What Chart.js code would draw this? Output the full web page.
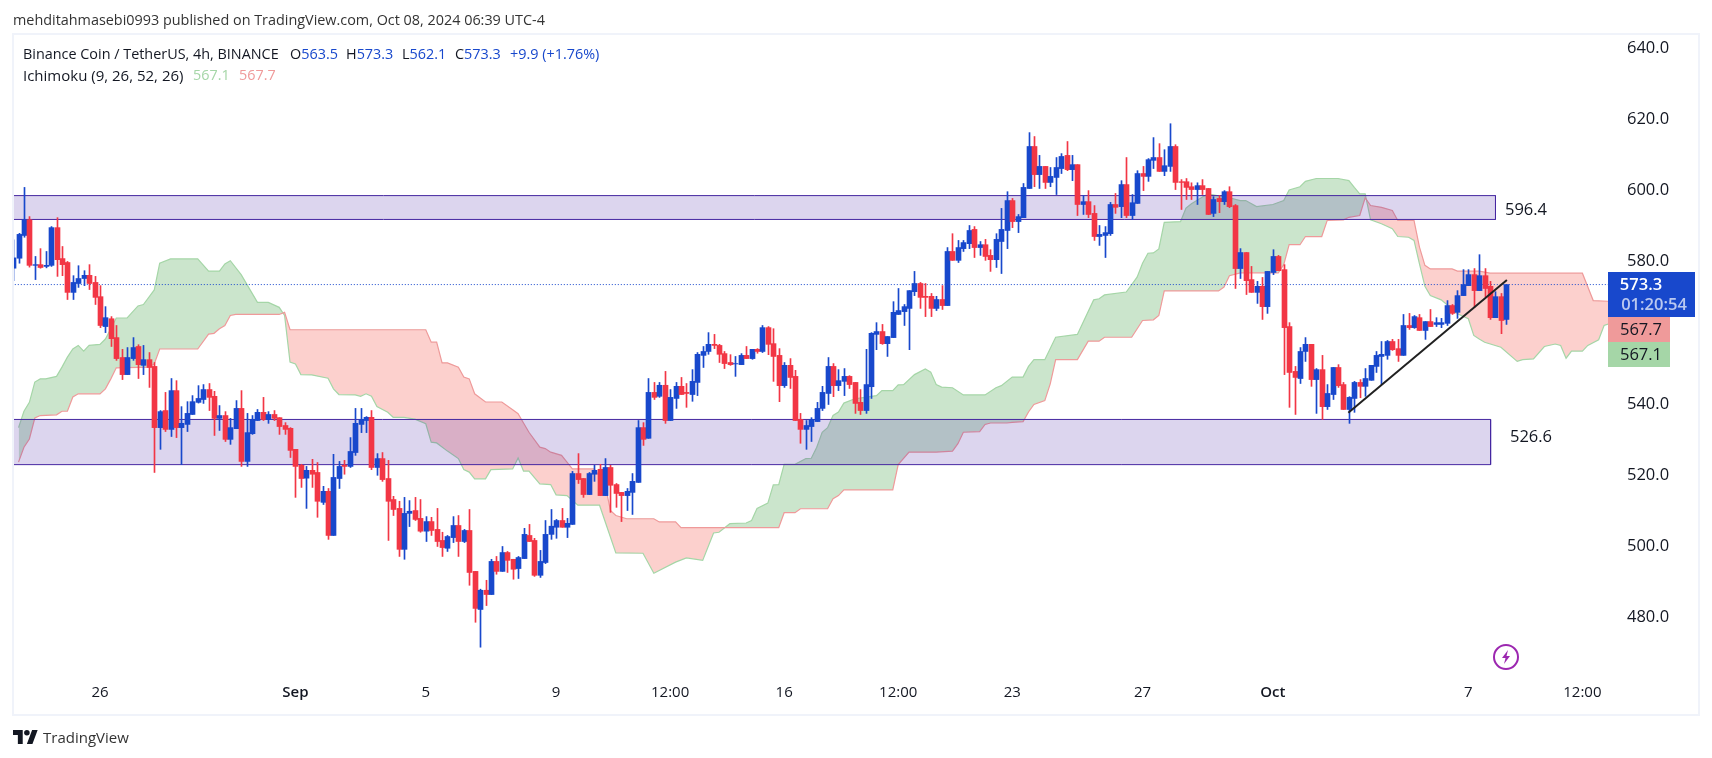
<!DOCTYPE html>
<html>
<head>
<meta charset="utf-8">
<title>BNB / USDT 4h</title>
<script src="https://cdn.jsdelivr.net/npm/chart.js@4"></script>
<style>
  html, body { margin: 0; padding: 0; background: #fff; }
  body { width: 1712px; height: 758px; position: relative; overflow: hidden; font-family: "Open Sans", sans-serif; color: #131722; }
  #frame { position: absolute; left: 12px; top: 33px; width: 1684px; height: 679px; border: 2px solid #f0f3fa; }
  #chart { position: absolute; left: 0; top: 0; }
  .txt { position: absolute; white-space: nowrap; font-size: 14.4px; line-height: 20px; }
  .blue { color: #1848cc; }
  #bolt { position: absolute; left: 1493px; top: 644px; }
  #logo { position: absolute; left: 13px; top: 730px; }
</style>
</head>
<body>
<div id="frame"></div>
<canvas id="chart" width="1712" height="758"></canvas>
<div class="txt" style="left:13px;top:10px;color:#333">mehditahmasebi0993 published on TradingView.com, Oct 08, 2024 06:39 UTC-4</div>
<div class="txt" style="left:23px;top:44px">Binance Coin / TetherUS, 4h, BINANCE</div>
<div class="txt" style="left:290px;top:44px">O<span class="blue">563.5</span></div>
<div class="txt" style="left:346px;top:44px">H<span class="blue">573.3</span></div>
<div class="txt" style="left:402px;top:44px">L<span class="blue">562.1</span></div>
<div class="txt" style="left:455px;top:44px">C<span class="blue">573.3</span></div>
<div class="txt blue" style="left:510px;top:44px">+9.9 (+1.76%)</div>
<div class="txt" style="left:23px;top:65px;font-size:15px">Ichimoku (9, 26, 52, 26)</div>
<div class="txt" style="left:193px;top:65px;color:#a5d6a7">567.1</div>
<div class="txt" style="left:239px;top:65px;color:#ef9a9a">567.7</div>
<svg id="bolt" width="26" height="26" viewBox="0 0 26 26">
  <circle cx="13" cy="13" r="12" fill="#fff" stroke="#9c27b0" stroke-width="2"/>
  <path d="M15 6 L9 14 L12.5 14 L11 20 L17 12 L13.5 12 Z" fill="#9c27b0"/>
</svg>
<svg id="logo" width="25" height="14" viewBox="0 0 36 20">
  <path d="M14 20H7V7H0V0h14v20zM28 20h-8l7.5-20h8L28 20z" fill="#131722"/>
  <circle cx="20" cy="4" r="4" fill="#131722"/>
</svg>
<div class="txt" style="left:43px;top:727px;font-size:15px;color:#333">TradingView</div>

<script>
// 4h candles, first one is Aug 23 08:00
const opens = [
  577.9,580.7,587.1,591.5,578.7,578.9,578.4,578.7,589.3,580.6,
  579.5,571.1,573.6,575.0,575.9,573.9,569.9,561.5,563.7,558.4,
  552.8,548.0,552.5,555.9,550.6,552.2,550.3,533.1,537.9,532.6,
  543.5,533.1,534.0,536.8,540.2,541.0,543.8,541.9,535.7,536.5,
  529.8,532.8,538.5,523.6,531.4,535.1,537.4,535.4,536.8,535.9,
  533.7,532.9,527.0,522.5,518.9,521.1,520.5,512.1,515.2,502.8,
  518.8,522.5,522.2,526.1,534.0,535.1,536.0,521.9,524.4,518.8,
  512.9,510.4,498.9,509.0,509.8,507.6,504.0,506.7,504.5,501.4,
  499.2,502.2,505.6,501.1,504.2,492.7,482.0,487.4,486.2,495.5,
  492.7,498.0,496.1,493.5,496.3,502.8,501.4,491.6,495.2,503.1,
  505.1,507.0,505.1,505.9,520.2,518.8,514.3,520.0,521.4,514.0,
  521.9,517.1,514.9,514.0,514.9,517.7,533.1,530.1,543.0,541.9,
  545.0,535.1,541.3,544.7,543.0,542.4,545.8,553.4,554.5,556.5,
  556.2,553.9,551.4,551.0,550.8,553.4,552.5,555.1,554.5,561.2,
  556.7,553.4,544.9,550.6,547.5,535.4,532.6,533.4,534.8,538.5,
  542.7,550.3,544.9,546.1,547.5,545.8,540.2,537.9,544.6,559.3,
  560.1,556.7,558.4,564.9,565.7,566.6,571.3,573.6,570.0,570.0,
  566.6,569.1,567.4,582.6,580.1,583.4,584.8,588.8,583.7,584.5,
  581.5,580.3,585.4,588.5,596.9,591.0,592.1,600.3,612.1,604.2,
  606.5,602.0,603.4,605.9,609.6,605.6,607.0,595.8,596.6,593.3,
  586.8,587.1,587.6,595.8,595.2,601.4,592.7,596.1,604.5,603.7,
  608.2,609.0,605.1,606.5,612.1,602.2,602.2,600.8,600.0,601.1,
  600.3,593.3,597.5,596.6,599.4,595.5,577.8,582.3,574.7,571.1,
  572.8,567.1,576.7,581.2,577.5,561.5,548.9,546.9,554.5,556.5,
  546.6,549.4,539.0,542.4,550.0,545.2,538.2,541.3,545.8,544.7,
  546.4,550.3,553.1,553.4,557.3,555.3,553.4,561.8,561.2,564.0,
  560.4,562.9,562.1,562.1,562.4,567.4,565.5,570.2,573.0,576.1,
  571.6,575.8,572.8,564.0,569.9,563.5
];
const closes = [
  580.8,587.4,591.5,578.7,578.9,578.1,578.7,589.3,580.3,578.9,
  571.1,573.9,575.0,575.9,573.6,569.7,561.8,564.0,558.1,552.5,
  548.0,552.8,555.6,550.8,552.2,550.0,533.1,537.6,532.6,543.5,
  533.1,534.3,537.1,540.4,541.3,543.8,541.6,535.7,536.5,529.8,
  533.1,538.5,523.6,531.7,535.4,537.4,535.4,536.8,535.7,533.4,
  532.6,526.7,522.2,518.8,521.1,520.0,512.4,515.2,502.8,519.1,
  522.2,522.2,526.4,534.3,535.4,536.0,521.9,524.4,518.5,512.4,
  510.1,498.9,509.0,509.6,507.3,504.0,506.7,504.2,501.1,499.4,
  502.5,505.6,501.1,504.2,492.4,482.3,487.4,486.2,495.5,492.7,
  498.0,495.8,493.3,496.6,503.1,501.1,491.6,495.5,503.1,505.4,
  507.0,505.1,506.2,520.2,518.5,514.3,520.2,521.1,514.0,521.9,
  516.9,514.6,514.0,515.2,518.0,533.1,529.8,543.0,541.6,545.0,
  535.1,541.6,544.7,542.4,542.7,546.1,553.7,554.5,556.5,556.2,
  553.7,551.1,550.8,551.1,553.4,552.5,555.1,554.5,561.2,556.5,
  553.1,544.9,550.6,547.2,535.1,532.6,533.7,535.4,538.5,543.0,
  550.3,544.9,546.3,547.5,545.2,539.9,537.9,545.2,559.6,560.1,
  556.7,558.7,565.5,566.0,567.1,571.6,573.6,569.7,569.7,566.6,
  569.1,567.4,582.6,580.1,583.7,585.1,588.5,583.7,584.5,581.2,
  580.3,586.0,588.8,596.9,591.0,592.4,600.6,612.1,604.2,606.5,
  602.0,603.7,606.2,609.3,605.6,607.0,595.8,596.6,593.0,586.8,
  587.4,587.9,595.8,595.0,601.4,592.7,596.3,604.5,603.7,608.4,
  609.0,605.1,606.7,612.1,602.0,602.0,600.6,600.0,601.1,600.0,
  593.0,597.2,596.6,599.4,595.2,577.8,582.3,574.4,571.1,572.8,
  567.1,577.0,581.2,577.2,561.2,548.6,547.2,554.5,556.5,546.6,
  549.4,539.0,542.7,550.0,544.9,538.2,541.6,545.8,544.7,546.9,
  550.6,553.4,553.7,557.3,555.0,553.4,561.8,561.2,564.3,560.4,
  562.9,561.5,562.6,562.6,567.4,565.2,570.2,573.3,576.1,571.6,
  575.8,572.2,564.0,569.9,563.2,573.3
];
const highs = [
  585.9,587.7,600.6,592.4,581.2,583.4,582.6,589.6,592.1,584.0,
  579.8,575.8,578.6,577.2,578.9,575.6,573.0,567.1,564.3,561.8,
  555.1,555.6,558.4,556.4,556.2,554.2,551.4,537.9,543.0,546.9,
  546.3,539.0,540.4,542.1,544.9,545.2,545.5,543.3,539.3,537.6,
  535.7,540.7,543.5,537.1,536.5,538.2,541.6,537.6,537.9,535.9,
  534.5,533.1,527.0,522.8,522.2,524.2,523.3,516.6,516.0,525.6,
  523.6,523.9,530.3,538.5,538.5,536.2,537.9,525.8,526.1,523.9,
  513.8,512.4,513.5,512.6,513.5,512.9,508.1,507.9,510.4,503.7,
  502.8,508.1,508.4,504.5,510.1,492.7,487.7,490.2,496.1,496.9,
  499.7,498.3,496.1,496.9,504.8,505.9,502.0,498.6,507.0,510.1,
  507.3,510.4,507.6,520.8,525.8,518.8,520.5,522.5,522.8,524.4,
  522.5,517.4,514.9,516.0,520.2,535.1,534.5,546.9,545.8,545.8,
  548.9,543.8,545.8,547.2,545.5,549.4,554.2,555.9,559.8,559.3,
  556.5,554.5,553.6,553.1,553.9,555.9,555.1,555.3,561.8,561.5,
  560.9,555.3,551.4,552.5,549.2,537.1,535.1,535.9,540.2,544.7,
  552.8,551.1,549.4,549.7,547.7,545.8,543.8,555.1,559.8,562.6,
  562.1,558.7,568.5,572.2,567.7,571.6,577.0,573.9,573.6,570.8,
  570.0,573.0,583.7,587.6,585.7,585.7,589.9,589.6,585.4,586.0,
  583.1,587.6,594.7,599.4,597.5,593.0,601.7,616.0,614.9,609.6,
  606.5,606.2,609.0,610.1,613.5,609.6,607.0,598.3,599.7,595.5,
  589.9,589.6,596.4,598.9,602.5,609.0,598.6,605.3,606.5,608.7,
  614.6,612.9,611.2,618.5,612.6,602.8,603.1,601.9,601.9,602.8,
  600.3,598.0,598.3,599.7,600.8,595.8,583.4,582.3,578.4,574.2,
  575.3,577.0,583.1,581.5,578.9,562.6,550.3,555.6,558.4,556.5,
  549.7,553.4,545.2,550.0,550.8,545.8,541.8,546.1,546.6,549.7,
  550.6,554.5,557.3,557.6,557.9,557.9,564.9,565.2,564.6,564.9,
  562.9,566.3,564.0,563.8,568.8,567.7,571.6,577.5,577.5,577.8,
  581.7,577.8,574.2,571.3,570.8,573.3
];
const lows = [
  574.4,579.3,586.6,578.2,574.7,577.9,578.0,578.4,575.6,575.8,
  569.1,569.1,572.5,573.0,571.9,567.7,561.2,559.8,555.9,552.0,
  546.6,548.0,552.0,546.9,548.0,544.4,520.5,527.0,532.0,530.6,
  530.3,522.7,532.0,536.8,540.0,539.9,537.9,530.9,532.3,529.2,
  528.4,532.8,522.2,522.2,531.2,535.1,535.1,534.3,535.1,531.2,
  531.2,524.7,513.5,516.3,510.4,516.3,507.9,511.5,501.7,502.8,
  516.0,520.0,521.9,525.3,531.7,531.7,521.3,519.7,518.0,501.4,
  508.4,496.9,496.1,505.3,507.0,503.7,501.1,502.8,499.7,496.9,
  498.3,500.8,496.9,500.8,488.8,478.4,471.4,483.1,486.2,491.9,
  492.7,492.4,490.5,490.7,496.3,501.1,491.3,491.0,494.9,501.7,
  502.0,505.1,502.2,505.9,517.4,513.5,514.3,518.0,514.0,514.0,
  509.3,510.7,506.7,509.8,508.7,517.7,528.1,530.1,541.0,541.6,
  534.3,535.1,538.5,542.4,538.8,540.5,542.1,550.0,553.7,555.3,
  551.4,549.7,550.6,547.5,550.8,552.5,552.3,554.0,554.2,553.6,
  546.1,540.4,544.4,544.1,535.1,528.7,527.0,529.2,534.8,537.9,
  539.6,541.8,543.5,542.1,544.1,537.1,536.8,537.1,541.3,555.0,
  556.5,553.1,558.4,564.9,561.8,555.0,570.2,566.6,564.3,564.3,
  566.0,566.3,567.4,580.1,579.5,582.6,583.4,580.9,581.5,580.1,
  577.0,578.1,576.4,583.4,589.3,587.9,592.1,600.3,600.8,600.3,
  600.3,600.8,598.6,604.5,605.3,602.5,592.7,593.0,592.1,585.7,
  584.3,580.9,587.1,593.3,592.1,592.1,591.6,596.1,599.7,602.3,
  605.9,605.1,603.9,605.1,600.0,594.4,597.2,597.2,595.8,598.6,
  593.0,592.4,593.5,595.8,594.9,572.2,575.0,570.5,571.1,568.0,
  563.5,565.2,576.1,577.2,548.0,538.8,536.8,545.5,551.7,544.7,
  537.1,535.4,538.2,541.0,544.4,538.2,534.3,537.4,541.5,541.9,
  546.4,548.6,545.2,552.3,554.8,551.7,553.4,560.7,561.0,560.4,
  557.9,561.5,561.5,561.2,561.8,564.9,563.8,570.2,573.0,566.9,
  571.6,569.9,563.5,564.0,559.5,562.1
];

// Ichimoku cloud, only the corners of each span (candle number, price)
const spanAIdx = [1,2,3,4,5,6,8,9,10,11,12,13,14,16,17,18,19,21,23,24,26,27,29,34,36,38,39,40,42,45,47,49,50,51,52,53,55,58,59,60,63,64,65,66,67,69,70,72,74,76,77,78,80,82,83,84,85,87,88,92,93,94,95,97,99,100,102,104,108,111,116,118,122,124,127,129,130,132,135,136,137,139,140,141,142,144,146,147,148,149,150,151,152,153,155,159,160,162,163,164,166,168,169,170,171,173,175,179,181,182,184,186,187,188,190,192,196,199,200,201,205,207,208,209,210,211,212,215,216,217,220,224,226,227,229,232,234,235,237,238,240,244,246,247,248,249,250,252,254,255,257,258,259,260,261,263,266,268,269,270,271,274,277,278,280,282,284,285,286,287,289,290,292,293,294];
const spanAVal = [533.1,537.7,540.2,545.9,546.8,546.8,547.5,550.1,552.9,555.2,556.2,554.6,556.2,556.5,558.0,560.9,563.9,563.9,567.3,567.7,571.8,579.3,580.5,580.5,577.1,577.1,579.1,580.0,576.1,568.3,568.3,566.9,564.6,551.5,551.0,548.0,547.9,547.0,544.0,542.4,542.3,541.9,542.6,541.9,539.0,537.4,536.0,536.0,535.5,534.2,529.0,528.8,526.5,524.4,521.3,520.6,518.7,518.7,521.3,521.5,524.6,520.9,520.9,517.3,517.1,514.2,514.0,511.3,511.3,497.9,497.8,492.2,495.3,496.5,495.8,503.5,503.7,506.1,506.3,507.0,510.4,511.9,517.0,517.1,522.8,522.8,524.4,524.5,527.6,531.8,533.1,536.5,537.5,540.0,541.2,542.1,543.5,543.5,545.1,545.2,548.0,549.6,548.7,545.2,544.5,544.3,542.3,542.3,544.3,544.9,547.3,547.3,550.3,552.2,552.2,558.5,559.3,569.0,569.3,570.4,571.2,575.4,579.3,582.1,582.2,583.3,590.8,591.0,594.8,596.0,598.8,597.7,596.9,596.9,595.2,595.8,596.9,599.9,600.8,602.3,603.1,603.1,602.5,600.6,598.8,598.8,591.5,590.4,589.0,586.8,586.6,585.7,579.1,572.8,570.2,569.0,565.1,563.7,559.0,558.0,557.1,555.7,551.7,552.2,552.4,555.9,556.6,556.2,552.6,554.6,554.6,556.2,557.8,561.8,562.3];
const spanBIdx = [1,2,3,4,5,8,9,10,11,12,16,17,18,19,25,26,27,34,36,37,38,39,40,41,49,50,51,76,77,78,79,80,82,83,84,85,87,90,92,93,94,95,97,98,99,101,102,103,107,109,110,111,113,118,119,122,123,141,142,144,145,150,151,152,153,162,163,165,170,173,174,175,178,179,180,183,184,186,187,188,190,191,192,196,197,198,200,201,206,208,210,211,212,222,223,224,226,233,234,235,237,238,241,242,245,246,248,249,250,252,254,255,258,259,260,261,265,266,270,272,289,291,294];
const spanBVal = [523.4,527.6,529.9,535.8,536.5,536.7,537.7,537.7,541.7,542.6,542.6,544.0,546.8,549.9,550.1,551.0,555.2,555.2,559.4,559.6,560.9,561.8,564.6,564.9,564.9,565.5,560.6,560.6,557.1,557.1,551.3,551.3,550.1,547.3,546.8,542.6,540.3,540.3,538.1,537.0,534.4,531.8,527.6,527.2,526.2,525.3,523.4,521.5,521.5,517.3,509.8,508.4,507.5,507.5,506.6,506.6,505.0,505.0,509.2,509.2,510.3,510.3,513.1,514.0,515.6,515.6,522.7,526.2,526.2,526.5,528.6,531.8,532.0,534.0,534.4,534.4,534.6,534.8,537.5,539.6,540.7,545.4,552.2,552.2,554.8,557.4,557.4,558.5,558.5,563.2,563.4,564.6,571.5,571.5,572.6,575.8,576.6,576.6,578.9,584.5,584.5,586.8,586.8,591.3,591.5,592.2,592.7,597.7,595.5,595.0,594.1,591.3,591.3,583.8,578.7,577.7,577.7,577.1,577.1,576.5,576.5,568.8,568.6];

// hand drawn zones and the rising trend line
const zoneUpper = [598.3, 591.6];
const zoneLower = [535.4, 522.7];
const zoneUpperEnd = 273;
const zoneLowerEnd = 272.1;
const trendIdx = [245.9, 275.1];
const trendVal = [537.3, 574.6];
const lastPrice = 573.3;

const yTicks = [640, 620, 600, 580, 540, 520, 500, 480];
const xTickIdx = [16, 52, 76, 100, 121, 142, 163, 184, 208, 232, 268, 289];
const xTickLabels = ['26', 'Sep', '5', '9', '12:00', '16', '12:00', '23', '27', 'Oct', '7', '12:00'];

const BLUE = '#1848cc';
const RED = '#f23645';
const ZONE_FILL = 'rgba(81,45,168,0.2)';
const ZONE_LINE = '#4527a0';
const axisFont = { family: '"Open Sans", sans-serif', size: 16.5 };

const candleColor = (i) => (closes[i] >= opens[i] ? BLUE : RED);
const pts = (xs, ys) => xs.map((x, i) => ({ x, y: ys[i] }));
const line = (data, extra) => Object.assign({ type: 'line', data, pointRadius: 0, tension: 0, borderWidth: 1, fill: false }, extra);

// price tags on the axis and the two zone labels
const overlay = {
  id: 'overlay',
  beforeDatasetsDraw(chart) {
    // keep candles on whole pixels so the wicks stay sharp
    chart.data.datasets.forEach((ds, n) => {
      if (ds.type === 'line') return;
      chart.getDatasetMeta(n).data.forEach(b => { b.x = Math.round(b.x) + 0.5; });
    });
  },
  afterDraw(chart) {
    const { ctx } = chart;
    const y = chart.scales.y;
    ctx.save();
    ctx.textAlign = 'center';
    ctx.textBaseline = 'middle';
    ctx.font = '16.5px "Open Sans", sans-serif';
    ctx.fillStyle = '#131722';
    ctx.fillText('596.4', 1526, y.getPixelForValue(594.1));
    ctx.fillText('526.6', 1531, y.getPixelForValue(530.4));

    ctx.fillStyle = '#ef9a9a';
    ctx.fillRect(1608, 316, 62, 26);
    ctx.fillStyle = '#a5d6a7';
    ctx.fillRect(1608, 342, 62, 25);
    ctx.fillStyle = '#131722';
    ctx.fillText('567.7', 1641, 330);
    ctx.fillText('567.1', 1641, 355.5);

    ctx.fillStyle = BLUE;
    ctx.fillRect(1608, 272, 87, 45);
    ctx.fillStyle = '#fff';
    ctx.font = '600 16.5px "Open Sans", sans-serif';
    ctx.fillText('573.3', 1641, y.getPixelForValue(lastPrice) + 1);
    ctx.fillStyle = 'rgba(255,255,255,0.7)';
    ctx.font = '600 16.5px "Open Sans", sans-serif';
    ctx.fillText('01:20:54', 1654, 305);
    ctx.restore();
  }
};

new Chart(document.getElementById('chart'), {
  type: 'bar',
  data: {
    datasets: [
      line(pts(spanAIdx, spanAVal), { borderColor: '#a5d6a7', borderWidth: 1.2, order: 9, fill: { target: 1, above: 'rgba(67,160,71,0.28)', below: 'rgba(244,67,54,0.25)' } }),
      line(pts(spanBIdx, spanBVal), { borderColor: '#ef9a9a', borderWidth: 1.2, order: 8 }),
      line(pts([-3, zoneUpperEnd, zoneUpperEnd], [zoneUpper[0], zoneUpper[0], zoneUpper[1]]), { borderColor: ZONE_LINE, backgroundColor: ZONE_FILL, order: 7, fill: '+1' }),
      line(pts([-3, zoneUpperEnd], [zoneUpper[1], zoneUpper[1]]), { borderColor: ZONE_LINE, order: 7 }),
      line(pts([-3, zoneLowerEnd, zoneLowerEnd], [zoneLower[0], zoneLower[0], zoneLower[1]]), { borderColor: ZONE_LINE, backgroundColor: ZONE_FILL, order: 7, fill: '+1' }),
      line(pts([-3, zoneLowerEnd], [zoneLower[1], zoneLower[1]]), { borderColor: ZONE_LINE, order: 7 }),
      line(pts([-3, 300], [lastPrice, lastPrice]), { borderColor: BLUE, borderDash: [1, 2], order: 6 }),
      {
        data: lows.map((l, i) => ({ x: i, y: [l, highs[i]] })),
        backgroundColor: (c) => candleColor(c.dataIndex),
        barThickness: 1, grouped: false, order: 3
      },
      {
        data: opens.map((o, i) => ({ x: i, y: [o, closes[i]] })),
        backgroundColor: (c) => candleColor(c.dataIndex),
        barThickness: 5, grouped: false, order: 2
      },
      line(pts(trendIdx, trendVal), { borderColor: '#212121', borderWidth: 2, order: 1 })
    ]
  },
  options: {
    responsive: false,
    animation: false,
    layout: { padding: { left: 14, top: 35, right: 16, bottom: 44 } },
    plugins: { legend: { display: false }, tooltip: { enabled: false } },
    scales: {
      x: {
        type: 'linear',
        offset: false,
        min: 0.166,
        max: 293.72,
        grid: { display: false, drawTicks: false },
        border: { display: false },
        // pin the plot area, tick labels should not push it in
        afterFit(s) { s.height = 42; s.paddingLeft = 0; s.paddingRight = 0; },
        afterBuildTicks(s) { s.ticks = xTickIdx.map(value => ({ value })); },
        ticks: {
          autoSkip: false,
          maxRotation: 0,
          padding: 12,
          color: '#131722',
          font: (c) => {
            const t = c.tick ? xTickLabels[xTickIdx.indexOf(c.tick.value)] : '';
            return Object.assign({}, axisFont, { size: 15, weight: t === 'Sep' || t === 'Oct' ? '600' : '400' });
          },
          callback: (v) => xTickLabels[xTickIdx.indexOf(v)]
        }
      },
      y: {
        position: 'right',
        min: 464.43,
        max: 643.43,
        grid: { display: false },
        border: { display: false },
        afterFit(s) { s.width = 88; s.paddingTop = 0; s.paddingBottom = 0; },
        afterBuildTicks(s) { s.ticks = yTicks.map(value => ({ value })); },
        ticks: {
          padding: 11,
          labelOffset: 1,
          color: '#131722',
          font: axisFont,
          callback: (v) => v.toFixed(1)
        }
      }
    }
  },
  plugins: [overlay]
});
</script>
</body>
</html>
